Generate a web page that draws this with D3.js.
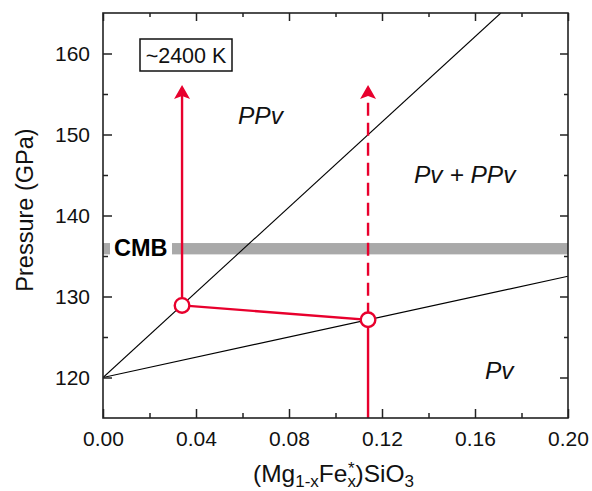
<!DOCTYPE html>
<html>
<head>
<meta charset="utf-8">
<script src="https://cdn.jsdelivr.net/npm/d3@7"></script>
<style>
  html, body { margin: 0; padding: 0; background: #fff; }
  svg { display: block; font-family: "Liberation Sans", Arial, sans-serif; }
</style>
</head>
<body>
<svg id="chart" width="592" height="491"></svg>
<script>
// ---- data ----
const xDomain = [0, 0.20];
const yDomain = [115, 165];
const xMajorTicks = [0, 0.04, 0.08, 0.12, 0.16, 0.20];
const xMinorTicks = [0.02, 0.06, 0.10, 0.14, 0.18];
const yMajorTicks = [120, 130, 140, 150, 160];
const yMinorTicks = [125, 135, 145, 155];
// phase boundaries (x, pressure)
const ppvBoundary = [[0, 120], [0.1711, 165]];
const pvBoundary = [[0, 120], [0.20, 132.5]];
// red path points
const ppvPoint = [0.034, 128.9];
const pvPoint = [0.114, 127.13];
const arrowTopP = 156.1;
const cmbPressure = 135.9;
const cmbHalfWidth = 0.7;
const tempLabel = "~2400 K";

// ---- layout ----
const svg = d3.select("#chart");
const m = {left: 103, right: 568, top: 13, bottom: 418};
const x = d3.scaleLinear().domain(xDomain).range([m.left, m.right]);
const y = d3.scaleLinear().domain(yDomain).range([m.bottom, m.top]);
const red = "#e8002d";
const redW = 2.4;
const line = d3.line().x(d => x(d[0])).y(d => y(d[1]));

// CMB band
svg.append("rect")
  .attr("x", m.left).attr("width", m.right - m.left)
  .attr("y", y(cmbPressure + cmbHalfWidth))
  .attr("height", y(cmbPressure - cmbHalfWidth) - y(cmbPressure + cmbHalfWidth))
  .attr("fill", "#a9a9a9");
svg.append("rect")
  .attr("x", 110).attr("width", 62)
  .attr("y", y(cmbPressure + cmbHalfWidth) - 1)
  .attr("height", y(cmbPressure - cmbHalfWidth) - y(cmbPressure + cmbHalfWidth) + 2)
  .attr("fill", "#fff");
svg.append("text").attr("x", 114).attr("y", 256)
  .attr("font-size", 23.5).attr("font-weight", "bold").attr("fill", "#000").text("CMB");

// boundaries
svg.append("clipPath").attr("id", "plotclip").append("rect")
  .attr("x", m.left).attr("y", m.top).attr("width", m.right - m.left).attr("height", m.bottom - m.top);
[ppvBoundary, pvBoundary].forEach(b => {
  svg.append("path").attr("d", line(b)).attr("fill", "none")
    .attr("stroke", "#000").attr("stroke-width", 1.1).attr("clip-path", "url(#plotclip)");
});

// red solid path
svg.append("path").attr("d", line([[ppvPoint[0], arrowTopP - 0.8], ppvPoint]))
  .attr("fill", "none").attr("stroke", red).attr("stroke-width", redW);
svg.append("path").attr("d", line([ppvPoint, pvPoint, [pvPoint[0], yDomain[0]]]))
  .attr("fill", "none").attr("stroke", red).attr("stroke-width", redW);
// dashed
svg.append("path").attr("d", line([pvPoint, [pvPoint[0], arrowTopP - 0.8]]))
  .attr("fill", "none").attr("stroke", red).attr("stroke-width", redW)
  .attr("stroke-dasharray", "13,7").attr("stroke-dashoffset", -4);
// arrowheads
[ppvPoint[0], pvPoint[0]].forEach(px => {
  const tx = x(px), ty = y(arrowTopP);
  svg.append("path").attr("d", `M${tx},${ty} L${tx + 8},${ty + 14} L${tx},${ty + 11} L${tx - 8},${ty + 14} Z`)
    .attr("fill", red);
});

// circles
[ppvPoint, pvPoint].forEach(p => {
  svg.append("circle").attr("cx", x(p[0])).attr("cy", y(p[1])).attr("r", 7.3)
    .attr("fill", "#fff").attr("stroke", red).attr("stroke-width", redW);
});

// axes
const fs = 21;
svg.append("g").attr("transform", `translate(0,${m.bottom})`)
  .call(d3.axisBottom(x).tickValues(xMajorTicks).tickSize(-9).tickPadding(13).tickFormat(d3.format(".2f")));
svg.append("g").attr("transform", `translate(0,${m.bottom})`)
  .call(d3.axisBottom(x).tickValues(xMinorTicks).tickSize(-5).tickFormat(""));
svg.append("g").attr("transform", `translate(0,${m.top})`)
  .call(d3.axisTop(x).tickValues(xMajorTicks).tickSize(-8).tickFormat(""));
svg.append("g").attr("transform", `translate(0,${m.top})`)
  .call(d3.axisTop(x).tickValues(xMinorTicks).tickSize(-4).tickFormat(""));
svg.append("g").attr("transform", `translate(${m.left},0)`)
  .call(d3.axisLeft(y).tickValues(yMajorTicks).tickSize(-9).tickPadding(13));
svg.append("g").attr("transform", `translate(${m.left},0)`)
  .call(d3.axisLeft(y).tickValues(yMinorTicks).tickSize(-5).tickFormat(""));
svg.append("g").attr("transform", `translate(${m.right},0)`)
  .call(d3.axisRight(y).tickValues(yMajorTicks).tickSize(-8).tickFormat(""));
svg.append("g").attr("transform", `translate(${m.right},0)`)
  .call(d3.axisRight(y).tickValues(yMinorTicks).tickSize(-4).tickFormat(""));
svg.selectAll(".domain").remove();
svg.selectAll(".tick line").attr("stroke", "#222").attr("stroke-width", 1.5);
svg.selectAll(".tick text").attr("font-size", fs).attr("font-family", "Liberation Sans, Arial, sans-serif").attr("fill", "#111");

// frame
svg.append("rect").attr("x", m.left).attr("y", m.top)
  .attr("width", m.right - m.left).attr("height", m.bottom - m.top)
  .attr("fill", "none").attr("stroke", "#222").attr("stroke-width", 1.6);

// axis titles
svg.append("text").attr("transform", "translate(33,210) rotate(-90)")
  .attr("text-anchor", "middle").attr("font-size", 23.5).attr("fill", "#111").text("Pressure (GPa)");

const xl = svg.append("text").attr("x", 253).attr("y", 482).attr("font-size", 24.5).attr("fill", "#111");
xl.append("tspan").text("(Mg");
xl.append("tspan").attr("font-size", 17).attr("dy", 5).text("1-x");
xl.append("tspan").attr("dy", -5).text("Fe");
xl.append("tspan").attr("font-size", 17).attr("dy", 5).text("x");
xl.append("tspan").attr("font-size", 17).attr("dx", -8).attr("dy", -13).text("*");
xl.append("tspan").attr("dy", 8).attr("dx", 1).text(")SiO");
xl.append("tspan").attr("font-size", 17).attr("dy", 5).text("3");

// region labels
const lab = (t, px, py) => svg.append("text").attr("x", px).attr("y", py)
  .attr("font-size", 24.5).attr("font-style", "italic").attr("fill", "#111").text(t);
lab("PPv", 238, 124);
lab("Pv + PPv", 414, 183);
lab("Pv", 485, 379);

// temperature box
svg.append("rect").attr("x", 140).attr("y", 39).attr("width", 92).attr("height", 32)
  .attr("fill", "#fff").attr("stroke", "#111").attr("stroke-width", 1.5);
svg.append("text").attr("x", 186).attr("y", 63).attr("text-anchor", "middle")
  .attr("font-size", 21.5).attr("fill", "#111").text(tempLabel);
</script>
</body>
</html>
